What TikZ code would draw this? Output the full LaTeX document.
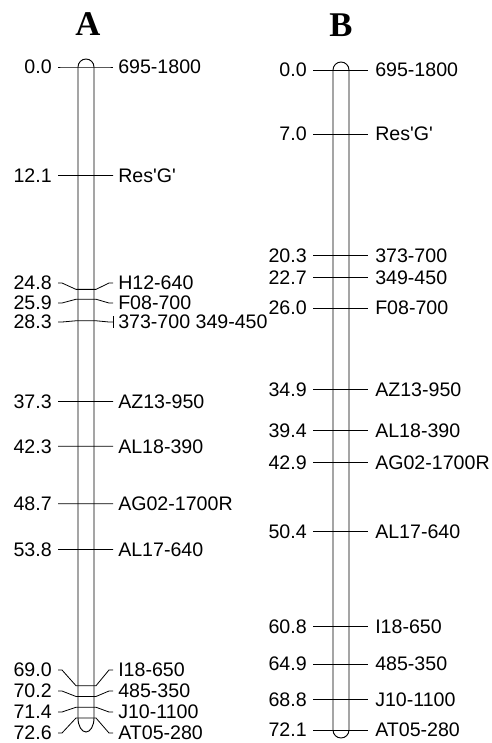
\documentclass[tikz,border=0pt]{standalone}
\usepackage{fontspec}
\setmainfont{Liberation Sans}
\newfontfamily\headfont{Liberation Serif}
\usetikzlibrary{calc}

\begin{document}
\begin{tikzpicture}[
  x=0.75pt,y=-0.75pt,
  chrom/.style={draw,line width=0.7pt},
  tick/.style={line width=0.6pt},
  cmlab/.style={anchor=east,inner sep=0pt,font=\fontsize{14.7}{16}\selectfont},
  mklab/.style={anchor=west,inner sep=0pt,font=\fontsize{14.7}{16}\selectfont},
  head/.style={font=\headfont\bfseries\fontsize{26}{28}\selectfont},
]
\useasboundingbox (0,0) rectangle (492,743);

%% ===== Titles ================================================================
\node[head] (tA) at (88,24) {A};
\node[head] (tB) at (341,25.5) {B};

%% ===== Chromosome A ==========================================================
\draw[chrom] (78,67) -- (78,718)
  arc[start angle=180,end angle=360,x radius=6pt,y radius=10.5pt]
  -- (94,67) arc[start angle=0,end angle=180,radius=6pt] -- cycle;

\foreach \cm/\yl/\name [count=\i] in {
    0.0/67/695-1800,
    12.1/175.5/Res\textquotesingle G\textquotesingle,
    24.8/283/H12-640,
    25.9/303/F08-700,
    28.3/322/373-700 349-450,
    37.3/401.5/AZ13-950,
    42.3/446.3/AL18-390,
    48.7/503.7/AG02-1700R,
    53.8/549.4/AL17-640,
    69.0/670/I18-650,
    70.2/691/485-350,
    71.4/712/J10-1100,
    72.6/733/AT05-280}{
  \pgfmathsetmacro\ym{67+8.967*\cm}
  \node[cmlab] (aL\i) at (52,\yl) {\cm};
  \node[mklab] (aR\i) at (118,\yl) {\name};
  \draw[tick] ([xshift=4.5pt]aL\i.east) -- ++(4,0) -- (76,\ym) -- (96,\ym)
    -- (109,\yl) -- ([xshift=-3.75pt]aR\i.west);
}
% two loci at one position
\draw[tick] ([xshift=-3.75pt,yshift=4.5pt]aR5.west) -- ([xshift=-3.75pt,yshift=-4.5pt]aR5.west);

%% ===== Chromosome B ==========================================================
\draw[chrom] (333,70) -- (333,730)
  arc[start angle=180,end angle=360,radius=6pt]
  -- (349,70) arc[start angle=0,end angle=180,radius=6pt] -- cycle;

\foreach \cm/\name [count=\i] in {
    0.0/695-1800,
    7.0/Res\textquotesingle G\textquotesingle,
    20.3/373-700,
    22.7/349-450,
    26.0/F08-700,
    34.9/AZ13-950,
    39.4/AL18-390,
    42.9/AG02-1700R,
    50.4/AL17-640,
    60.8/I18-650,
    64.9/485-350,
    68.8/J10-1100,
    72.1/AT05-280}{
  \pgfmathsetmacro\ym{70+9.154*\cm}
  \node[cmlab] (bL\i) at (307,\ym) {\cm};
  \node[mklab] (bR\i) at (375,\ym) {\name};
  \draw[tick] ([xshift=4.5pt]bL\i.east) -- ([xshift=-5.25pt]bR\i.west);
}

\end{tikzpicture}
\end{document}
